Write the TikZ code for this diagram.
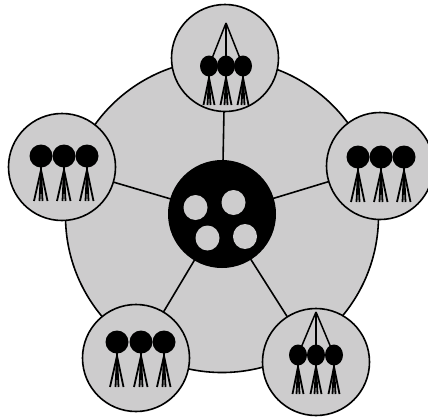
\documentclass[tikz,border=0pt]{standalone}
\definecolor{bg}{RGB}{205,204,205}
\tikzset{
  plate/.style={draw=black, fill=bg, line width=1.6pt},
  spoke/.style={draw=black, line width=1.6pt},
  leg/.style={draw=black, line width=1.8pt},
}
\newcommand{\personA}[2]{%
  \fill (#1,#2) circle (11.5);
  \draw[leg] (#1,#2) -- (#1,#2+14);
  \draw[leg] (#1,#2+14) -- (#1-7,#2+45);
  \draw[leg] (#1,#2+14) -- (#1-1.5,#2+45);
  \draw[leg] (#1,#2+14) -- (#1+1.5,#2+45);
  \draw[leg] (#1,#2+14) -- (#1+6.5,#2+45);
}
\newcommand{\personB}[2]{%
  \fill (#1,#2) ellipse (9 and 10.5);
  \draw[leg] (#1,#2) -- (#1,#2+12);
  \draw[leg] (#1,#2+12) -- (#1-5.5,#2+39);
  \draw[leg] (#1,#2+12) -- (#1-1.5,#2+39);
  \draw[leg] (#1,#2+12) -- (#1+1.5,#2+39);
  \draw[leg] (#1,#2+12) -- (#1+5.5,#2+39);
}
\begin{document}
\begin{tikzpicture}[x=1pt,y=-1pt]
\useasboundingbox (0,0) rectangle (428,416);
% big plate
\path[plate] (222,216) circle (156.5);
\coordinate (c) at (222,214);
\coordinate (t) at (225,58);
\coordinate (l) at (62,167);
\coordinate (r) at (380,166);
\coordinate (bl) at (136,358);
\coordinate (br) at (316,362);
\foreach \p in {t,l,r,bl,br} \draw[spoke] (c) -- (\p);
% hub
\node[circle, fill=black, minimum size=108pt, inner sep=0pt] (hub) at (c) {};
\fill[bg] (195.5,207.5) ellipse (12 and 12.5);
\fill[bg] (233.5,202.5) ellipse (12 and 12.5);
\fill[bg] (207.5,238) ellipse (12 and 12.5);
\fill[bg] (245,236.5) ellipse (12 and 12.5);
% small plates
\node[plate, circle, minimum size=107pt, inner sep=0pt] (nt) at (t) {};
\node[plate, circle, minimum size=107pt, inner sep=0pt] (nl) at (l) {};
\node[plate, circle, minimum size=107pt, inner sep=0pt] (nr) at (r) {};
\node[plate, circle, minimum size=107pt, inner sep=0pt] (nbl) at (bl) {};
\node[plate, circle, minimum size=107pt, inner sep=0pt] (nbr) at (br) {};
% type A groups
\personA{41}{156}\personA{64}{156}\personA{87}{156}
\personA{358}{157}\personA{381}{157}\personA{404}{157}
\personA{117}{342}\personA{141}{342}\personA{164}{342}
% type B groups
\coordinate (ta) at (226,23);
\foreach \x in {209,226,243} \draw[leg, line width=1.5pt] (ta) -- (\x,66);
\personB{209}{66}\personB{226}{66}\personB{243}{66}
\coordinate (ba) at (316,312);
\foreach \x in {298,316,334} \draw[leg, line width=1.5pt] (ba) -- (\x,355);
\personB{298}{355}\personB{316}{355}\personB{334}{355}
\end{tikzpicture}
\end{document}
